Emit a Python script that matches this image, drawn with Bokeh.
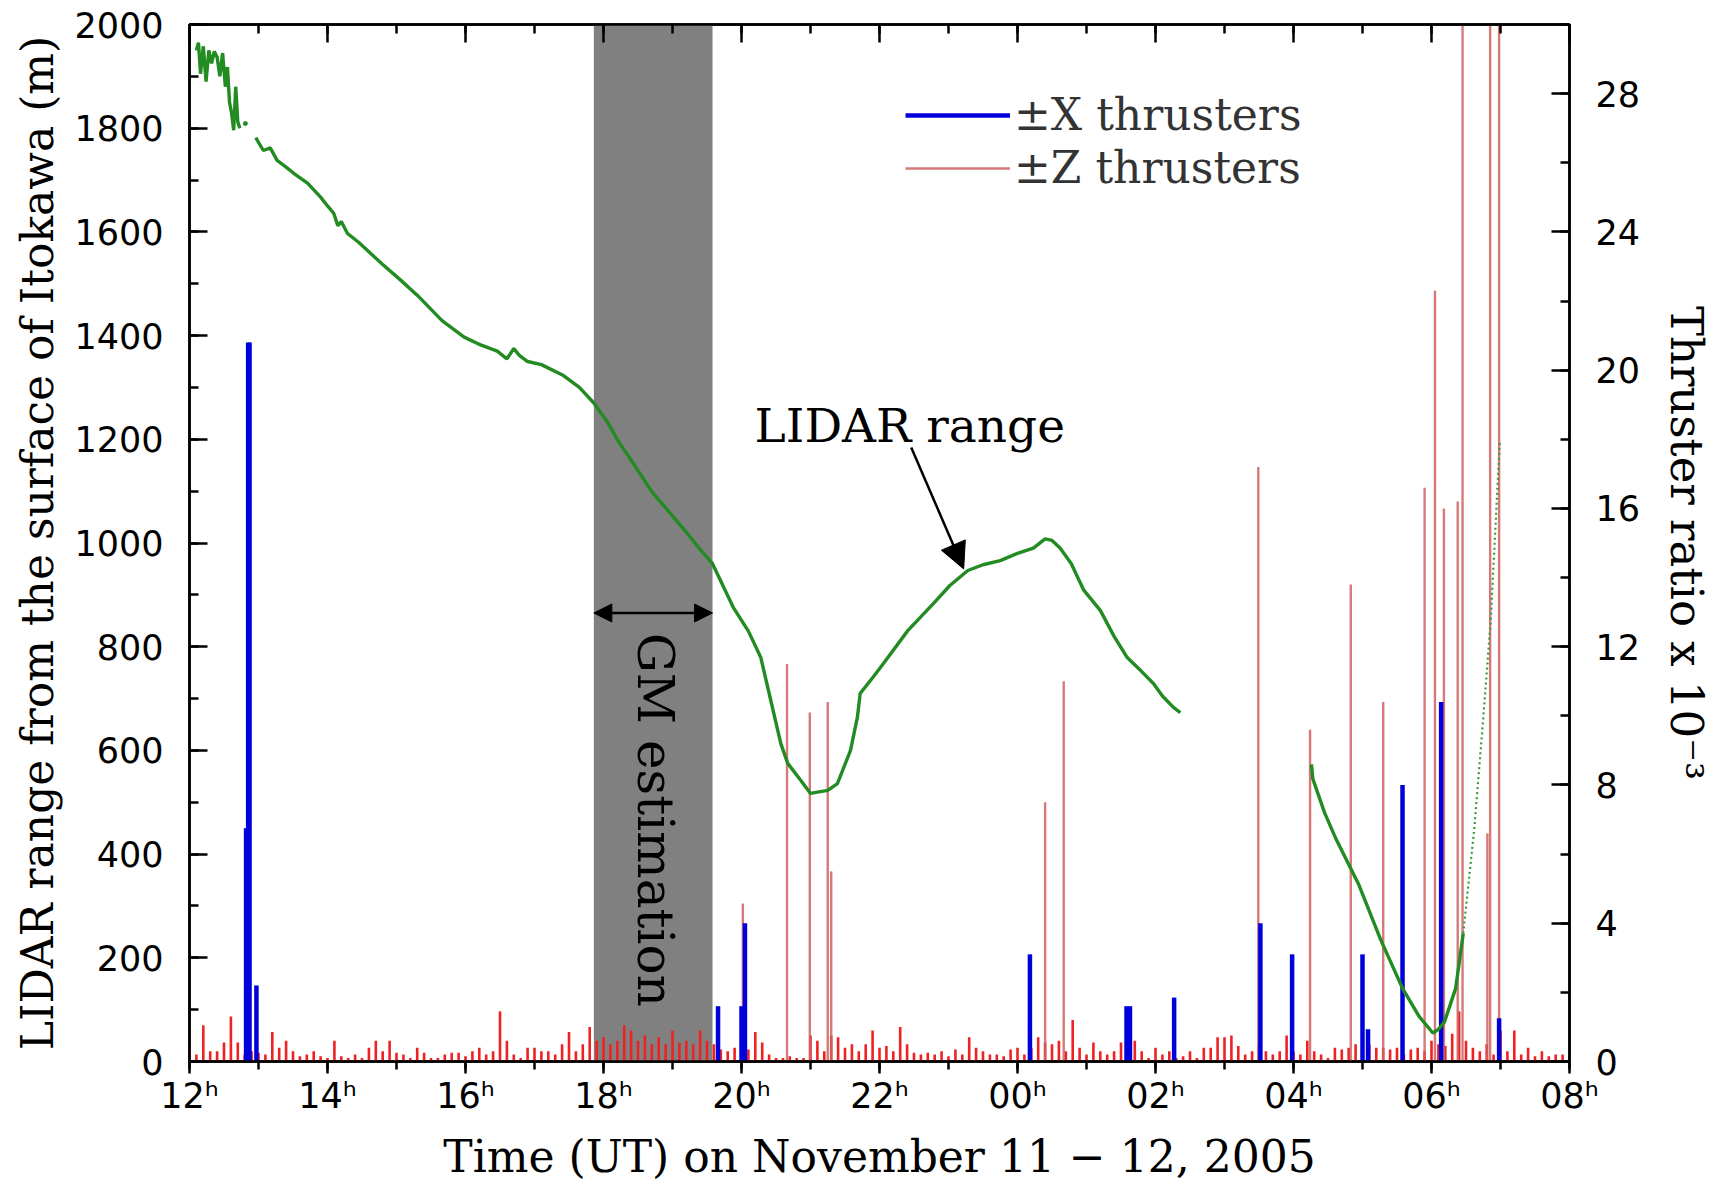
import math
from bokeh.plotting import figure
from bokeh.models import (Range1d, LinearAxis, SingleIntervalTicker, CustomJSTickFormatter,
                          BoxAnnotation, Arrow, NormalHead, Label, Legend, LegendItem)
from bokeh.embed import file_html
from bokeh.resources import INLINE

NaN = float("nan")

# ---------------- data ----------------
# LIDAR range (hours counted from 00h UT Nov 11; metres)
lidar_t = [12.10, 12.13, 12.16, 12.20, 12.24, 12.28, 12.32, 12.36, 12.40, 12.44, 12.48, 12.52,
           12.55, 12.58, 12.61, 12.64, 12.67, 12.70, 12.73, NaN,
           12.96, 13.07, 13.17, 13.27, 13.40, 13.51, 13.71, 13.90, 14.00, 14.09, 14.15, 14.20,
           14.29, 14.45, 14.58, 14.80, 15.06, 15.30, 15.66, 15.98, 16.22, 16.46, 16.60, 16.70,
           16.78, 16.90, 17.10, 17.42, 17.65, 17.86, 18.05, 18.22, 18.45, 18.70, 18.95, 19.18,
           19.41, 19.58, 19.88, 20.10, 20.28, 20.39, 20.57, 20.67, 20.86, 21.00, 21.12, 21.25,
           21.39, 21.58, 21.68, 21.72, 21.90, 22.06, 22.41, 22.78, 23.02, 23.28, 23.50, 23.75,
           24.00, 24.23, 24.40, 24.50, 24.62, 24.78, 24.96, 25.20, 25.40, 25.59, 25.80, 25.97,
           26.10, 26.26, 26.36, NaN,
           28.26, 28.28, 28.45, 28.62, 28.94, 29.26, 29.58, 29.82, 30.02, 30.10, 30.19, 30.35,
           30.46]
lidar_m = [1950, 1965, 1905, 1958, 1890, 1950, 1925, 1948, 1937, 1900, 1945, 1880,
           1918, 1850, 1829, 1796, 1880, 1812, 1800, NaN,
           1782, 1757, 1762, 1738, 1725, 1713, 1694, 1667, 1650, 1636, 1612, 1620,
           1597, 1580, 1564, 1537, 1507, 1478, 1429, 1397, 1382, 1370, 1355, 1375,
           1362, 1350, 1344, 1323, 1300, 1270, 1235, 1195, 1150, 1099, 1060, 1024,
           986, 960, 876, 830, 779, 716, 613, 575, 542, 517, 520, 523,
           536, 600, 664, 710, 740, 768, 831, 883, 918, 947, 958, 966,
           980, 990, 1008, 1005, 990, 960, 909, 870, 820, 779, 752, 729,
           705, 683, 673, NaN,
           573, 545, 480, 428, 343, 236, 141, 87, 55, 62, 77, 141,
           247]
# sparse (dotted) part of the LIDAR record after 06h30
lidar_sparse_t = [30.46, 30.62, 30.75, 30.86, 30.90, 30.99]
lidar_sparse_m = [247, 449, 662, 854, 960, 1195]
lidar_single_t = [12.81]
lidar_single_m = [1809]

# +-X thrusters (hours, ratio x 1e-3)
x_thr_t = [12.82, 12.85, 12.87, 12.97, 19.66, 20.00, 20.05, 24.18, 25.58, 25.63, 26.27,
           27.52, 27.98, 29.00, 29.08, 29.58, 30.14, 30.98]
x_thr_r = [6.75, 20.8, 20.8, 2.2, 1.6, 1.6, 4.0, 3.1, 1.6, 1.6, 1.85,
           4.0, 3.1, 3.1, 0.93, 8.0, 10.4, 1.25]

# +-Z thrusters: large firings (hours, ratio x 1e-3)
z_big_t = [20.02, 20.66, 20.99, 21.25, 21.30, 24.40, 24.67, 27.49, 28.24, 28.83, 29.30,
           29.90, 30.05, 30.18, 30.38, 30.45, 30.81, 30.85, 30.98]
z_big_r = [4.57, 11.5, 10.1, 10.4, 5.5, 7.5, 11.0, 17.2, 9.6, 13.8, 10.4,
           16.6, 22.3, 16.0, 16.2, 30.0, 6.6, 30.0, 30.0]

# +-Z thrusters: small background firings, one row per hour (12h ... 31h), 6-minute bins
z_small_start = 12
z_small_r = [
    [0.45, 0.20, 1.05, 0.30, 0.30, 0.55, 1.30, 0.55, 0.20, 0.30],
    [0.25, 0.20, 0.85, 0.40, 0.60, 0.30, 0.15, 0.20, 0.30, 0.15],
    [0.10, 0.60, 0.15, 0.10, 0.20, 0.10, 0.40, 0.60, 0.30, 0.60],
    [0.25, 0.20, 0.10, 0.40, 0.25, 0.10, 0.10, 0.20, 0.25, 0.25],
    [0.15, 0.30, 0.40, 0.20, 0.30, 1.45, 0.60, 0.20, 0.10, 0.40],
    [0.40, 0.30, 0.30, 0.20, 0.50, 0.85, 0.30, 0.50, 1.00, 0.60],
    [0.70, 0.50, 0.60, 1.05, 0.90, 0.60, 0.75, 0.50, 0.70, 0.50],
    [0.90, 0.55, 0.60, 0.50, 0.90, 0.60, 0.50, 0.35, 0.30, 0.40],
    [0.30, 0.35, 0.85, 0.55, 0.20, 0.10, 0.10, 0.15, 0.10, 0.10],
    [0.75, 0.60, 0.30, 0.75, 0.70, 0.40, 0.50, 0.30, 0.50, 0.90],
    [0.40, 0.45, 0.30, 1.00, 0.50, 0.25, 0.20, 0.25, 0.20, 0.30],
    [0.15, 0.35, 0.20, 0.70, 0.40, 0.30, 0.20, 0.20, 0.15, 0.35],
    [0.40, 0.20, 0.40, 0.70, 0.55, 0.50, 0.60, 0.30, 1.20, 0.40],
    [0.20, 0.55, 0.30, 0.20, 0.30, 0.55, 0.50, 0.60, 0.30, 0.10],
    [0.40, 0.20, 0.30, 0.10, 0.15, 0.30, 0.10, 0.40, 0.40, 0.70],
    [0.70, 0.75, 0.45, 0.20, 0.30, 0.50, 0.30, 0.20, 0.30, 0.75],
    [0.30, 0.20, 0.60, 0.30, 0.20, 0.10, 0.40, 0.35, 0.40, 0.50],
    [0.30, 0.50, 0.40, 0.40, 0.35, 0.40, 0.20, 0.35, 0.40, 0.30],
    [0.60, 0.50, 0.45, 0.80, 1.45, 0.60, 0.40, 0.30, 0.50, 0.20],
    [0.90, 0.30, 0.90, 0.20, 0.40, 0.15, 0.30, 0.15, 0.20, 0.20],
]
gm_window = (17.86, 19.58)

# ---------------- figure ----------------
SERIF = "DejaVu Serif"
SANS = "DejaVu Sans"

p = figure(width=1725, height=1184, x_range=Range1d(12, 32), y_range=Range1d(0, 2000),
           output_backend="svg", toolbar_location=None,
           x_axis_location=None, y_axis_location=None,
           min_border_left=189, min_border_right=156, min_border_top=24, min_border_bottom=123)
p.extra_y_ranges = {"ratio": Range1d(0, 30)}
p.grid.visible = False
p.background_fill_color = "white"
p.border_fill_color = "white"
p.outline_line_color = "black"
p.outline_line_width = 2.5


def style_axis(ax, tin, tout):
    ax.axis_line_width = 2.5
    ax.axis_line_color = "black"
    ax.major_tick_line_width = 2.5
    ax.minor_tick_line_width = 2.5
    ax.major_tick_in = tin
    ax.major_tick_out = tout
    ax.minor_tick_in = tin // 2 if tin else 0
    ax.minor_tick_out = tout * 2 // 3 if tout else 0
    ax.major_label_text_font = SANS
    ax.major_label_text_font_size = "35px"
    ax.major_label_text_color = "black"
    ax.axis_label_text_font = SERIF
    ax.axis_label_text_font_size = "44px"
    ax.axis_label_text_font_style = "normal"
    ax.axis_label_text_color = "black"


hour_fmt = CustomJSTickFormatter(code="""
const h = Math.round(tick) % 24;
return (h < 10 ? '0' : '') + h + '\u02b0';
""")
blank_fmt = CustomJSTickFormatter(code="return '';")

xb = LinearAxis(ticker=SingleIntervalTicker(interval=2, num_minor_ticks=2), formatter=hour_fmt,
                axis_label="Time (UT) on November 11 \u2212 12, 2005")
style_axis(xb, 0, 12)
xb.major_label_standoff = 2
xb.axis_label_standoff = 12
p.add_layout(xb, "below")

xt = LinearAxis(ticker=SingleIntervalTicker(interval=2, num_minor_ticks=2), formatter=blank_fmt)
style_axis(xt, 18, 0)
xt.major_label_standoff = 0
p.add_layout(xt, "above")

yl = LinearAxis(ticker=SingleIntervalTicker(interval=200, num_minor_ticks=2),
                axis_label="LIDAR range from the surface of Itokawa (m)")
style_axis(yl, 18, 0)
yl.major_label_standoff = 26
yl.axis_label_standoff = 8
p.add_layout(yl, "left")

yr = LinearAxis(y_range_name="ratio", ticker=SingleIntervalTicker(interval=4, num_minor_ticks=2),
                axis_label="Thruster ratio x 10\u207b\u00b3")
style_axis(yr, 18, 0)
yr.axis_label_text_font_size = "45px"
yr.major_label_standoff = 26
yr.axis_label_standoff = 17
p.add_layout(yr, "right")

# GM estimation window
p.add_layout(BoxAnnotation(left=gm_window[0], right=gm_window[1], fill_color="#808080",
                           fill_alpha=1.0, line_alpha=0, level="underlay"))

# small Z thruster firings
zs_t, zs_r = [], []
for i, row in enumerate(z_small_r):
    for k, v in enumerate(row):
        zs_t.append(z_small_start + i + k / 10.0)
        zs_r.append(v)
p.segment(x0=zs_t, y0=[0] * len(zs_t), x1=zs_t, y1=zs_r, y_range_name="ratio",
          line_color="#ee2222", line_width=2.6)

# large Z thruster firings
rz = p.segment(x0=z_big_t, y0=[0] * len(z_big_t), x1=z_big_t, y1=z_big_r, y_range_name="ratio",
               line_color="#d06262", line_alpha=0.85, line_width=2.4)

# X thrusters
rx = p.segment(x0=x_thr_t, y0=[0] * len(x_thr_t), x1=x_thr_t, y1=x_thr_r, y_range_name="ratio",
               line_color="#0000dd", line_width=4.5)

# LIDAR range
p.line(lidar_t, lidar_m, line_color="#228b22", line_width=3.4)
p.line(lidar_sparse_t, lidar_sparse_m, line_color="#3a9a3a", line_width=2.2, line_dash="2 3")
p.scatter(lidar_single_t, lidar_single_m, size=4, color="#228b22")

# legend
leg = Legend(items=[LegendItem(label="\u00b1X thrusters", renderers=[rx]),
                    LegendItem(label="\u00b1Z thrusters", renderers=[rz])],
             location=(716, 868), orientation="vertical",
             label_text_font=SERIF, label_text_font_size="44px", label_text_color="#333333",
             glyph_width=105, glyph_height=50, label_height=50, label_standoff=4, spacing=2,
             padding=0, margin=0, border_line_alpha=0, background_fill_alpha=0)
p.add_layout(leg)

# annotations
p.add_layout(Arrow(start=NormalHead(size=18, fill_color="black", line_color="black"),
                   end=NormalHead(size=18, fill_color="black", line_color="black"),
                   x_start=gm_window[0], y_start=865, x_end=gm_window[1], y_end=865,
                   line_width=2.5, line_color="black"))
p.add_layout(Label(x=18.74, y=466, text="GM estimation", angle=-math.pi / 2,
                   text_font=SERIF, text_font_size="50px", text_align="center",
                   text_baseline="middle", text_color="black"))
p.add_layout(Label(x=20.19, y=1227, text="LIDAR range", text_font=SERIF, text_font_size="47px",
                   text_align="left", text_baseline="middle", text_color="black"))
p.add_layout(Arrow(end=NormalHead(size=26, fill_color="black", line_color="black"),
                   x_start=22.46, y_start=1184, x_end=23.22, y_end=950,
                   line_width=2.5, line_color="black"))

open("out.html", "w").write(file_html(p, INLINE))
